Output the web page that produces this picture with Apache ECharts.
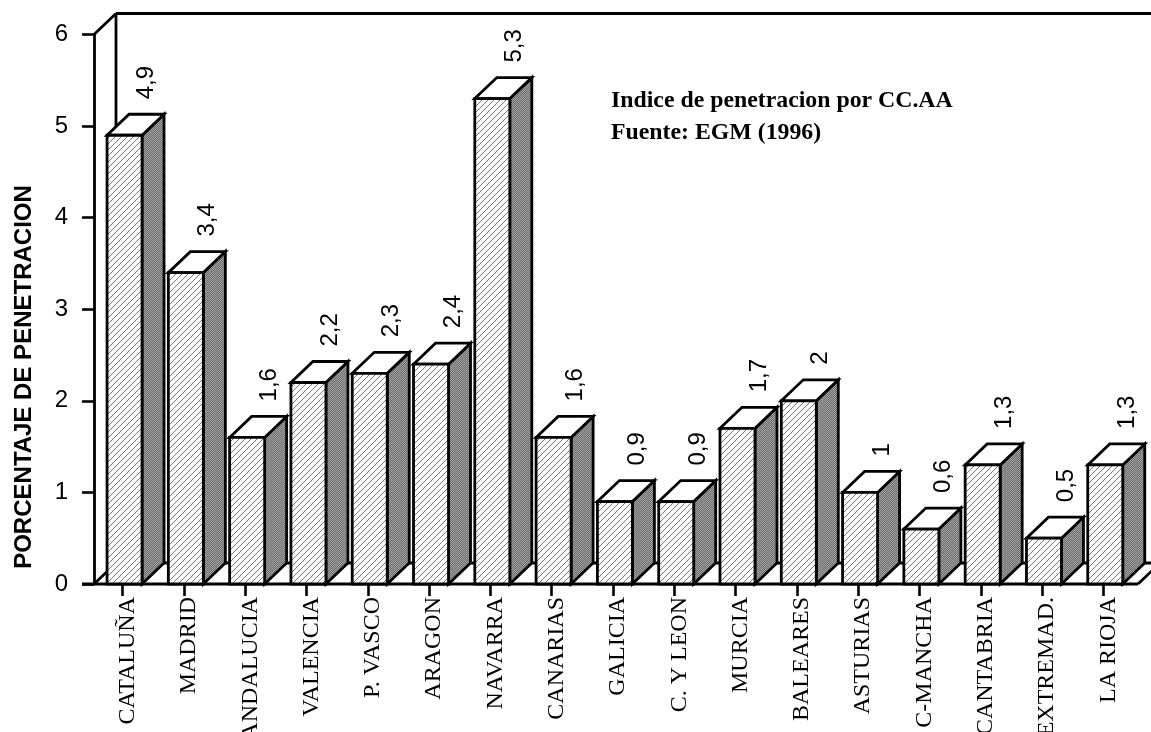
<!DOCTYPE html>
<html><head><meta charset="utf-8">
<style>html,body{margin:0;padding:0;background:#fff;overflow:hidden}#c{width:1151px;height:732px}</style>
<script src="https://cdn.jsdelivr.net/npm/echarts@6/dist/echarts.min.js"></script>
</head><body><div id="c"></div>
<script>
var categories=['CATALUÑA','MADRID','ANDALUCIA','VALENCIA','P. VASCO','ARAGON','NAVARRA','CANARIAS','GALICIA','C. Y LEON','MURCIA','BALEARES','ASTURIAS','C-MANCHA','CANTABRIA','EXTREMAD.','LA RIOJA'];
var values=[4.9,3.4,1.6,2.2,2.3,2.4,5.3,1.6,0.9,0.9,1.7,2,1,0.6,1.3,0.5,1.3];
var valueLabels=['4,9','3,4','1,6','2,2','2,3','2,4','5,3','1,6','0,9','0,9','1,7','2','1','0,6','1,3','0,5','1,3'];
var DX=22,DY=-21,BAR=35,SHIFT=1.9,AXX=94,LW=2.8;
function hatch(){var s=6,c=document.createElement('canvas');c.width=s;c.height=s;var g=c.getContext('2d');
 g.fillStyle='#fff';g.fillRect(0,0,s,s);g.fillStyle='#777';
 for(var i=0;i<s;i++){g.fillRect(s-1-i,i,1,1);}return c;}
function dither(){var c=document.createElement('canvas');c.width=2;c.height=2;var g=c.getContext('2d');
 g.fillStyle='#6e6e6e';g.fillRect(0,0,2,2);g.fillStyle='#a0a0a0';g.fillRect(0,0,1,1);g.fillRect(1,1,1,1);return c;}
var hatchFill={image:hatch(),repeat:'repeat'},ditherFill={image:dither(),repeat:'repeat'};
function poly(pts,fill){return {type:'polygon',shape:{points:pts},style:{fill:fill,stroke:'#000',lineWidth:LW,lineJoin:'miter'}};}
function line(a,b){return {type:'line',shape:{x1:a[0],y1:a[1],x2:b[0],y2:b[1]},style:{stroke:'#000',lineWidth:LW}};}
var chart=echarts.init(document.getElementById('c'),null,{renderer:'canvas'});
chart.setOption({
 animation:false,backgroundColor:'#fff',
 title:{text:'Indice de penetracion por CC.AA\nFuente: EGM (1996)',left:606,top:80,textStyle:{fontFamily:'Liberation Serif',fontWeight:'bold',fontSize:23.8,lineHeight:32,color:'#000'}},
 graphic:[{type:'text',x:24,y:377,rotation:Math.PI/2,style:{text:'PORCENTAJE DE PENETRACION',fontFamily:'Liberation Sans',fontWeight:'bold',fontSize:24,fill:'#000',align:'center',verticalAlign:'middle'}}],
 grid:{left:92,top:34.5,width:1042,height:549.5,outerBoundsMode:'none'},
 xAxis:{type:'category',data:categories,
  axisLine:{show:false},
  axisTick:{show:true,alignWithLabel:true,length:12,lineStyle:{color:'#000',width:2.6}},
  axisLabel:{rotate:90,interval:0,margin:13,fontFamily:'Liberation Serif',fontSize:24,color:'#000',hideOverlap:false,overflow:'none',verticalAlign:'top',lineHeight:10}},
 yAxis:{type:'value',min:0,max:6,interval:1,offset:-2,
  axisLine:{show:true,lineStyle:{color:'#000',width:2.8}},
  axisTick:{show:true,length:12,lineStyle:{color:'#000',width:2.6}},
  splitLine:{show:false},
  axisLabel:{margin:26,fontFamily:'Liberation Sans',fontSize:24,color:'#000'}},
 series:[
 {type:'custom',clip:false,silent:true,z:1,data:[[0,6]],encode:{x:0,y:1},
  renderItem:function(p,api){
   var o=api.coord([0,0]),t=api.coord([0,6]),last=api.coord([categories.length-1,0]);
   var y0=o[1],y6=t[1],xr=last[0]+api.size([1,0])[0]/2+4;
   return {type:'group',children:[
    line([AXX,y6],[AXX+DX,y6+DY]),
    line([AXX+DX,y6+DY],[AXX+DX,y0+DY]),
    line([AXX+DX,y6+DY],[1151,y6+DY]),
    line([AXX,y0],[AXX+DX,y0+DY]),
    line([AXX+DX,y0+DY],[1151,y0+DY]),
    line([82,y0],[xr,y0]),
    line([xr,y0],[xr+DX,y0+DY])
   ]};
  }},
 {type:'custom',clip:false,silent:true,z:2,data:values.map(function(v,i){return [i,v];}),encode:{x:0,y:1},
  renderItem:function(p,api){
   var i=api.value(0),v=api.value(1),a=api.coord([i,v]),b=api.coord([i,0]);
   var c=a[0]+SHIFT,l=c-BAR/2,r=c+BAR/2,t=a[1],bt=b[1];
   return {type:'group',children:[
    poly([[r,t],[r+DX,t+DY],[r+DX,bt+DY],[r,bt]],ditherFill),
    poly([[l,t],[l+DX,t+DY],[r+DX,t+DY],[r,t]],'#fff'),
    poly([[l,t],[r,t],[r,bt],[l,bt]],hatchFill),
    {type:'text',x:c+DX,y:t+DY-15,rotation:Math.PI/2,style:{text:valueLabels[i],fontFamily:'Liberation Sans',fontSize:24,fill:'#000',align:'left',verticalAlign:'middle'}}
   ]};
  }}
 ]
});
</script></body></html>
